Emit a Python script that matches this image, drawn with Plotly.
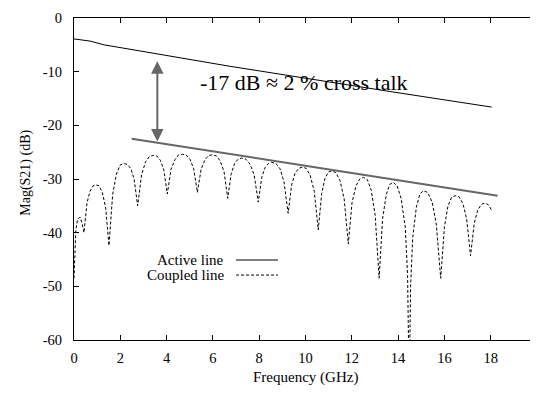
import plotly.graph_objects as go

# ---- data ----
active_f = [0.0, 0.7, 1.3, 6.74, 13.65, 18.04]
active_db = [-3.9, -4.3, -5.0, -9.0, -13.7, -16.6]

coupled_f = [0.0, 0.03, 0.08, 0.15, 0.26, 0.35, 0.43,
             0.56, 0.69, 0.82, 0.95, 1.09, 1.23, 1.37, 1.51,
             1.67, 1.83, 1.99, 2.16, 2.31, 2.46, 2.60, 2.75,
             2.92, 3.09, 3.26, 3.43, 3.58, 3.73, 3.88, 4.03,
             4.19, 4.36, 4.52, 4.68, 4.84, 5.01, 5.17, 5.33,
             5.49, 5.66, 5.82, 5.98, 6.15, 6.31, 6.48, 6.64,
             6.79, 6.94, 7.09, 7.24, 7.42, 7.60, 7.78, 7.96,
             8.11, 8.25, 8.40, 8.54, 8.72, 8.90, 9.07, 9.25,
             9.40, 9.55, 9.71, 9.86, 10.03, 10.20, 10.38, 10.55,
             10.70, 10.84, 10.99, 11.13, 11.31, 11.49, 11.67, 11.85,
             12.01, 12.18, 12.34, 12.50, 12.67, 12.84, 13.01, 13.18,
             13.33, 13.49, 13.64, 13.79, 13.96, 14.13, 14.31, 14.41, 14.48,
             14.54, 14.63, 14.79, 14.94, 15.09, 15.28, 15.47, 15.65, 15.84,
             16.00, 16.15, 16.31, 16.46, 16.63, 16.80, 16.96, 17.13,
             17.29, 17.44, 17.60, 17.75, 17.90, 18.04]
coupled_db = [-48.5, -44.0, -39.5, -37.6, -37.1, -38.2, -40.0,
              -34.5, -32.3, -31.3, -31.1, -31.3, -32.6, -35.4, -42.4,
              -32.9, -29.1, -27.4, -27.1, -27.3, -28.1, -30.1, -35.0,
              -29.2, -26.8, -25.8, -25.6, -25.7, -26.5, -28.3, -32.8,
              -28.2, -26.4, -25.5, -25.4, -25.5, -26.3, -28.1, -32.5,
              -28.2, -26.4, -25.6, -25.5, -25.7, -26.6, -28.6, -33.6,
              -29.0, -27.1, -26.3, -26.1, -26.3, -27.2, -29.2, -34.3,
              -29.7, -27.9, -27.1, -26.9, -27.1, -28.1, -30.5, -36.4,
              -31.1, -28.9, -28.0, -27.8, -28.0, -29.3, -32.3, -39.5,
              -32.7, -29.9, -28.7, -28.5, -28.8, -30.3, -33.7, -42.1,
              -34.4, -31.3, -30.0, -29.7, -30.1, -32.1, -36.8, -48.5,
              -37.4, -32.9, -31.0, -30.6, -31.3, -33.6, -39.0, -48.0, -70.0,
              -50.0, -41.0, -35.2, -32.8, -32.2, -32.5, -34.3, -38.4, -48.5,
              -39.0, -35.1, -33.4, -33.1, -33.3, -34.6, -37.4, -44.3,
              -38.2, -35.8, -34.7, -34.5, -34.8, -35.8]

envelope_f = [2.49, 18.3]
envelope_db = [-22.5, -33.1]

arrow_f = 3.6
arrow_top_db = -7.8
arrow_bottom_db = -23.0

x_ticks = [0, 2, 4, 6, 8, 10, 12, 14, 16, 18, 20]
y_ticks = [0, -10, -20, -30, -40, -50, -60]

FONT = "Liberation Serif, Times New Roman, serif"

fig = go.Figure()
fig.add_trace(go.Scatter(x=active_f, y=active_db, mode="lines",
                         line=dict(color="black", width=1), name="Active line",
                         showlegend=False))
fig.add_trace(go.Scatter(x=coupled_f, y=coupled_db, mode="lines",
                         line=dict(color="black", width=1, dash="3px,2px"),
                         name="Coupled line", showlegend=False))
fig.add_trace(go.Scatter(x=envelope_f, y=envelope_db, mode="lines",
                         line=dict(color="#666666", width=2), showlegend=False))

# double-headed arrow
fig.add_annotation(x=arrow_f, y=arrow_bottom_db, ax=arrow_f, ay=arrow_top_db,
                   xref="x", yref="y", axref="x", ayref="y", text="",
                   showarrow=True, arrowhead=2, startarrowhead=2,
                   arrowside="end+start", arrowwidth=2, arrowsize=1.25,
                   startarrowsize=1.25, arrowcolor="#666666", standoff=0,
                   startstandoff=0)

fig.add_annotation(x=9.93, y=-12.1, xref="x", yref="y",
                   text="-17 dB \u2248 2 % cross talk", showarrow=False,
                   font=dict(family=FONT, size=22, color="black"))

# manual legend (text then sample)
fig.add_annotation(x=6.57, y=-45.1, xref="x", yref="y", text="Active line",
                   showarrow=False, xanchor="right",
                   font=dict(family=FONT, size=15, color="black"))
fig.add_annotation(x=6.57, y=-47.9, xref="x", yref="y", text="Coupled line",
                   showarrow=False, xanchor="right",
                   font=dict(family=FONT, size=15, color="black"))
fig.add_shape(type="line", x0=7.0, x1=8.81, y0=-45.1, y1=-45.1, xref="x", yref="y",
              line=dict(color="#555555", width=1.5))
fig.add_shape(type="line", x0=7.0, x1=8.81, y0=-47.9, y1=-47.9, xref="x", yref="y",
              line=dict(color="black", width=1, dash="3px,2px"))

# axis titles as annotations (paper coords)
fig.add_annotation(x=0.5, y=-0.149, xref="paper", yref="paper", text="Frequency (GHz)",
                   showarrow=False, font=dict(family=FONT, size=15, color="black"))
fig.add_annotation(x=-0.127, y=0.52, xref="paper", yref="paper", text="Mag(S21) (dB)",
                   showarrow=False, textangle=-90,
                   font=dict(family=FONT, size=14, color="black"))

axis_common = dict(showgrid=False, zeroline=False, showline=True, linecolor="black",
                   linewidth=1, mirror="ticks", ticks="inside", ticklen=5,
                   tickcolor="black", tickwidth=1, automargin=False,
                   tickfont=dict(family=FONT, size=14.5, color="black"))

fig.update_xaxes(range=[0, 20], tickvals=x_ticks, ticktext=[str(v) for v in x_ticks],
                 ticklabelstandoff=5, **axis_common)
fig.update_yaxes(range=[-60, 0], tickvals=y_ticks, ticktext=[str(v) for v in y_ticks],
                 ticklabelstandoff=8, **axis_common)

# the page body adds an 8px offset, so margins are compensated for it
fig.update_layout(width=538, height=396, margin=dict(l=66, r=9, t=10, b=64),
                  plot_bgcolor="white", paper_bgcolor="white",
                  font=dict(family=FONT, size=14, color="black"), showlegend=False)

fig.write_html("out.html")
